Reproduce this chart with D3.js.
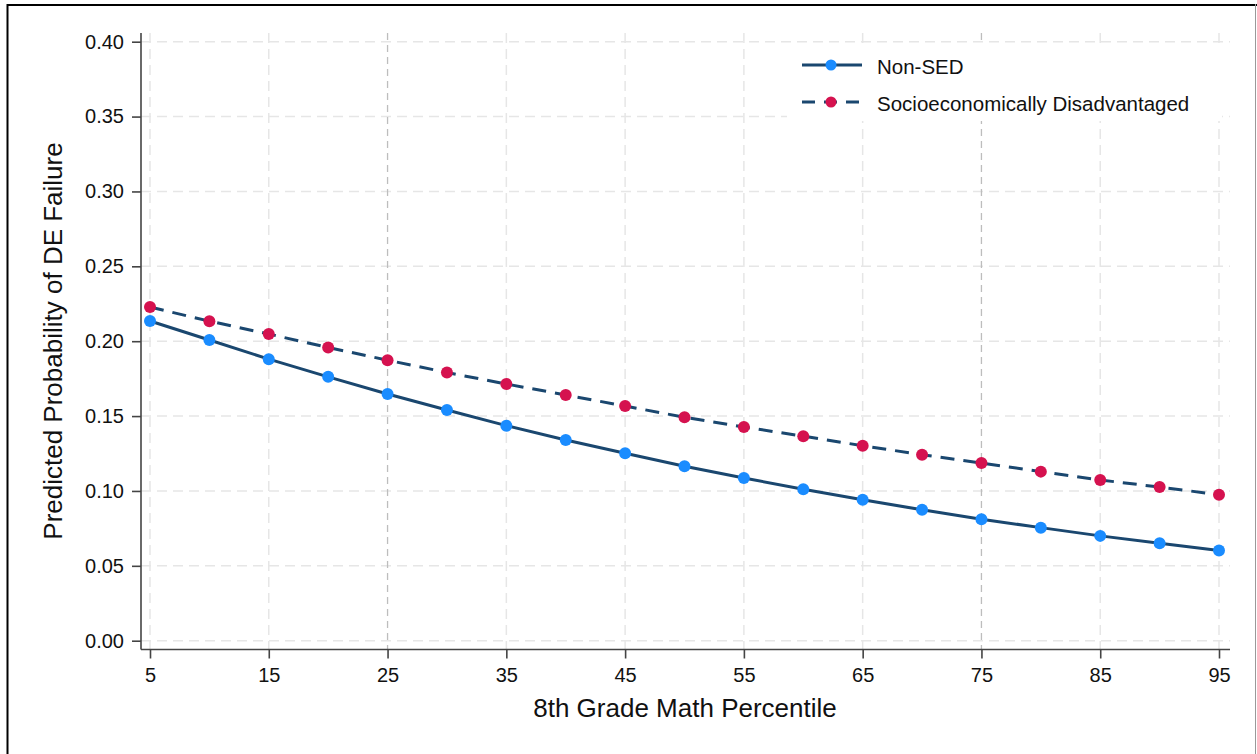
<!DOCTYPE html>
<html><head><meta charset="utf-8">
<script src="https://cdn.jsdelivr.net/npm/d3@7"></script>
<style>
html,body{margin:0;padding:0;background:#fff;}
svg{display:block;font-family:"Liberation Sans",Arial,Helvetica,sans-serif;}
</style></head>
<body>
<svg id="chart" width="1257" height="754"></svg>
<script>
const percentiles = [5,10,15,20,25,30,35,40,45,50,55,60,65,70,75,80,85,90,95];
const nonSED = [0.2135,0.2008,0.1880,0.1762,0.1647,0.1541,0.1436,0.1340,0.1252,0.1165,0.1086,0.1012,0.0941,0.0874,0.0811,0.0755,0.0700,0.0651,0.0603];
const sed = [0.2228,0.2134,0.2048,0.1958,0.1873,0.1791,0.1714,0.1641,0.1567,0.1492,0.1427,0.1366,0.1302,0.1242,0.1186,0.1129,0.1073,0.1026,0.0975];
const yTicks = [0,0.05,0.10,0.15,0.20,0.25,0.30,0.35,0.40];
const xTicks = [5,15,25,35,45,55,65,75,85,95];
const refLines = [25,75];
const seriesNames = ["Non-SED","Socioeconomically Disadvantaged"];

const svg = d3.select("#chart");
const x = d3.scaleLinear().domain([5,95]).range([150,1219]);
const y = d3.scaleLinear().domain([0,0.40]).range([640.7,41.7]);
const navy = "#1a476f", blue = "#1a8cff", red = "#d5124f";
const FONT = "Liberation Sans, Arial, sans-serif";

// outer border
svg.append("line").attr("x1",7).attr("x2",1257).attr("y1",5).attr("y2",5).attr("stroke","#000").attr("stroke-width",2);
svg.append("line").attr("x1",7.5).attr("x2",7.5).attr("y1",4).attr("y2",754).attr("stroke","#000").attr("stroke-width",2);
svg.append("line").attr("x1",1255.5).attr("x2",1255.5).attr("y1",4).attr("y2",754).attr("stroke","#999").attr("stroke-width",1);

// gridlines
const grid = svg.append("g");
grid.selectAll(".hg").data(yTicks).join("line")
  .attr("x1",141).attr("x2",1230).attr("y1",d=>y(d)).attr("y2",d=>y(d))
  .attr("stroke","#e6e6e6").attr("stroke-width",1.5).attr("stroke-dasharray","10,6");
grid.selectAll(".vg").data(xTicks.filter(d=>!refLines.includes(d))).join("line")
  .attr("x1",d=>x(d)).attr("x2",d=>x(d)).attr("y1",33).attr("y2",649)
  .attr("stroke","#e6e6e6").attr("stroke-width",1.5).attr("stroke-dasharray","10,6");
grid.selectAll(".rl").data(refLines).join("line")
  .attr("x1",d=>x(d)).attr("x2",d=>x(d)).attr("y1",33).attr("y2",649)
  .attr("stroke","#bdbdbd").attr("stroke-width",1.3).attr("stroke-dasharray","7,5");

// axes
const yAxis = d3.axisLeft(y).tickValues(yTicks).tickFormat(d3.format(".2f")).tickSize(9).tickPadding(8);
const gy = svg.append("g").attr("transform","translate(141,0)").call(yAxis);
gy.select(".domain").attr("d","M0,33V649.5").attr("stroke","#444").attr("stroke-width",1.6);
gy.selectAll(".tick line").attr("stroke","#444").attr("stroke-width",1.6);
gy.selectAll(".tick text").attr("font-size",20).attr("fill","#111").attr("font-family",FONT);

const xAxis = d3.axisBottom(x).tickValues(xTicks).tickSize(9).tickPadding(9);
const gx = svg.append("g").attr("transform","translate(0,649.5)").call(xAxis);
gx.select(".domain").attr("d","M141,0H1230").attr("stroke","#444").attr("stroke-width",1.6);
gx.selectAll(".tick line").attr("stroke","#444").attr("stroke-width",1.6);
gx.selectAll(".tick text").attr("font-size",20).attr("fill","#111").attr("font-family",FONT);

// axis titles
svg.append("text").attr("x",685).attr("y",717).attr("text-anchor","middle")
  .attr("font-size",26).attr("fill","#111").text("8th Grade Math Percentile");
svg.append("text").attr("transform","translate(61.5,341) rotate(-90)").attr("text-anchor","middle")
  .attr("font-size",26).attr("fill","#111").text("Predicted Probability of DE Failure");

// lines
const line = d3.line().x(d=>x(d[0])).y(d=>y(d[1]));
const nonData = percentiles.map((p,i)=>[p,nonSED[i]]);
const sedData = percentiles.map((p,i)=>[p,sed[i]]);
svg.append("path").datum(sedData).attr("d",line).attr("fill","none")
  .attr("stroke",navy).attr("stroke-width",3).attr("stroke-dasharray","14,9");
svg.append("path").datum(nonData).attr("d",line).attr("fill","none")
  .attr("stroke",navy).attr("stroke-width",3);
svg.selectAll(".sp").data(sedData).join("circle")
  .attr("cx",d=>x(d[0])).attr("cy",d=>y(d[1])).attr("r",6).attr("fill",red);
svg.selectAll(".np").data(nonData).join("circle")
  .attr("cx",d=>x(d[0])).attr("cy",d=>y(d[1])).attr("r",6).attr("fill",blue);

// legend
const lg = svg.append("g");
const ly = [65,102];
lg.append("rect").attr("x",787).attr("y",45).attr("width",435).attr("height",76).attr("fill","#fff");
lg.append("line").attr("x1",802).attr("x2",862).attr("y1",ly[0]).attr("y2",ly[0]).attr("stroke",navy).attr("stroke-width",3);
lg.append("circle").attr("cx",831).attr("cy",ly[0]).attr("r",5.5).attr("fill",blue);
lg.append("line").attr("x1",802).attr("x2",862).attr("y1",ly[1]).attr("y2",ly[1]).attr("stroke",navy).attr("stroke-width",3).attr("stroke-dasharray","13,9");
lg.append("circle").attr("cx",831).attr("cy",ly[1]).attr("r",5.5).attr("fill",red);
lg.selectAll(".lt").data(seriesNames).join("text")
  .attr("x",877).attr("y",(d,i)=>ly[i]+9).attr("font-size",20.5).attr("fill","#111").attr("font-family",FONT).text(d=>d);
</script>
</body></html>
